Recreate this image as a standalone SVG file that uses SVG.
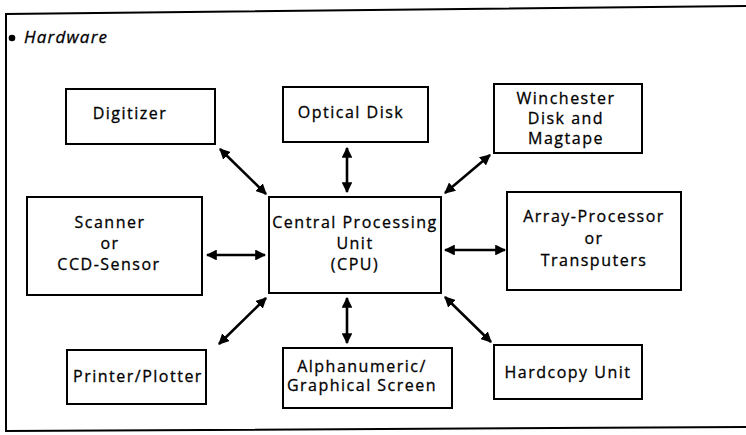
<svg xmlns="http://www.w3.org/2000/svg" width="746" height="435" viewBox="0 0 746 435">
  <style>
    .box { fill: #fff; stroke: #000; stroke-width: 2; }
    .lbl { font-family: "Open Sans", "Liberation Sans", sans-serif; font-size: 16px; letter-spacing: 1.5px; fill: #000; stroke: #000; stroke-width: 0.3; text-anchor: middle; }
    .wire { stroke: #000; stroke-width: 2.6; fill: none; marker-start: url(#head); marker-end: url(#head); }
    .frame { stroke: #000; stroke-width: 2; fill: none; }
  </style>
  <defs>
    <marker id="head" viewBox="0 0 10 10" refX="9" refY="5" markerWidth="4.2" markerHeight="4.2" orient="auto-start-reverse" markerUnits="strokeWidth">
      <path d="M0,0 L10,5 L0,10 Z" fill="#000"/>
    </marker>
  </defs>
  <rect width="746" height="435" fill="#fff"/>

  <!-- outer frame: top, left and bottom rules -->
  <g id="frame">
    <path class="frame" d="M746,6 L6,14 L6,431 L746,427"/>
    <circle cx="12" cy="38" r="3.3" fill="#000"/>
    <text x="24" y="43" font-family="'Open Sans', 'Liberation Sans', sans-serif" font-size="17" font-style="italic" letter-spacing="1.2" stroke="#000" stroke-width="0.3">Hardware</text>
  </g>

  <g id="digitizer">
    <rect class="box" x="66" y="89" width="149" height="55"/>
    <text class="lbl" x="130" y="119">Digitizer</text>
  </g>
  <g id="optical-disk">
    <rect class="box" x="283" y="87" width="145" height="55"/>
    <text class="lbl" x="351" y="118">Optical Disk</text>
  </g>
  <g id="winchester">
    <rect class="box" x="494" y="84" width="148" height="69"/>
    <text class="lbl" x="566" y="104">Winchester</text>
    <text class="lbl" x="566" y="124">Disk and</text>
    <text class="lbl" x="566" y="144">Magtape</text>
  </g>
  <g id="scanner">
    <rect class="box" x="27" y="197" width="175" height="98"/>
    <text class="lbl" x="110" y="228">Scanner</text>
    <text class="lbl" x="110" y="249">or</text>
    <text class="lbl" x="109" y="270">CCD-Sensor</text>
  </g>
  <g id="cpu">
    <rect class="box" x="269" y="197" width="172" height="96"/>
    <text class="lbl" x="355" y="228">Central Processing</text>
    <text class="lbl" x="355" y="249">Unit</text>
    <text class="lbl" x="355" y="270">(CPU)</text>
  </g>
  <g id="array-processor">
    <rect class="box" x="507" y="192" width="174" height="98"/>
    <text class="lbl" x="594" y="222">Array-Processor</text>
    <text class="lbl" x="594" y="244">or</text>
    <text class="lbl" x="594" y="266">Transputers</text>
  </g>
  <g id="printer">
    <rect class="box" x="67" y="350" width="139" height="54"/>
    <text class="lbl" x="138" y="382">Printer/Plotter</text>
  </g>
  <g id="screen">
    <rect class="box" x="283" y="348" width="169" height="60"/>
    <text class="lbl" x="362" y="372">Alphanumeric/</text>
    <text class="lbl" x="362" y="391">Graphical Screen</text>
  </g>
  <g id="hardcopy">
    <rect class="box" x="494" y="345" width="148" height="54"/>
    <text class="lbl" x="568" y="378">Hardcopy Unit</text>
  </g>

  <!-- two-way links between the CPU and each peripheral -->
  <g id="connectors">
    <line class="wire" x1="220" y1="149" x2="266" y2="194"/>
    <line class="wire" x1="347" y1="148" x2="347" y2="192"/>
    <line class="wire" x1="490" y1="155" x2="445" y2="193"/>
    <line class="wire" x1="207" y1="255" x2="265" y2="255"/>
    <line class="wire" x1="445" y1="250" x2="505" y2="250"/>
    <line class="wire" x1="266" y1="298" x2="219" y2="344"/>
    <line class="wire" x1="347" y1="298" x2="347" y2="343"/>
    <line class="wire" x1="445" y1="297" x2="491" y2="342"/>
  </g>
</svg>
